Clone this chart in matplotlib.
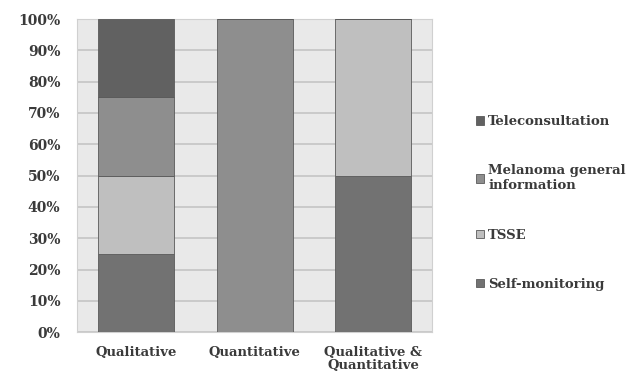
import matplotlib.pyplot as plt
import numpy as np

categories = ['Qualitative', 'Quantitative', 'Qualitative &\nQuantitative']
self_monitoring = [25, 0, 50]
tsse = [25, 0, 50]
melanoma_info = [25, 100, 0]
teleconsultation = [25, 0, 0]

series = [
    ('Self-monitoring', self_monitoring, '#727272'),
    ('TSSE', tsse, '#bfbfbf'),
    ('Melanoma general\ninformation', melanoma_info, '#8e8e8e'),
    ('Teleconsultation', teleconsultation, '#616161'),
]

plt.rcParams['font.family'] = ['DejaVu Serif']
txt = '#3a3a3a'

fig = plt.figure(figsize=(6.32, 3.88), dpi=100)
ax = fig.add_axes([0.122, 0.144, 0.562, 0.807])
ax.set_facecolor('#e9e9e9')

x = np.arange(len(categories))
bottom = np.zeros(len(categories))
handles = []
for name, vals, col in series:
    b = ax.bar(x, vals, 0.64, bottom=bottom, color=col, edgecolor='#5a5a5a',
               linewidth=0.6, label=name, zorder=3)
    handles.append(b)
    bottom += np.array(vals)

ax.set_xlim(-0.5, 2.5)
ax.set_ylim(0, 100)
ax.set_yticks(np.arange(0, 101, 10))
ax.set_yticklabels([f'{v}%' for v in range(0, 101, 10)])
ax.set_xticks(x)
ax.set_xticklabels(categories)
ax.grid(axis='y', color='#c4c4c4', linewidth=1.2, zorder=0)
ax.set_axisbelow(True)
for s in ax.spines.values():
    s.set_color('#d0d0d0')
ax.tick_params(axis='y', length=0, pad=12, labelsize=10, colors=txt)
ax.tick_params(axis='x', length=0, pad=10, labelsize=9.5, colors=txt)
for lab in ax.get_xticklabels() + ax.get_yticklabels():
    lab.set_fontweight('bold')
for lab in ax.get_xticklabels():
    lab.set_linespacing(1.0)

leg = fig.legend(handles[::-1], [h.get_label() for h in handles[::-1]],
                 loc='center left', bbox_to_anchor=(0.735, 0.477), frameon=False,
                 handlelength=0.6, handleheight=0.6, handletextpad=0.3,
                 labelspacing=2.75, prop={'weight': 'bold', 'size': 9.5})
for t in leg.get_texts():
    t.set_color(txt)
    t.set_linespacing(1.2)

fig.savefig('out.png', dpi=100)
